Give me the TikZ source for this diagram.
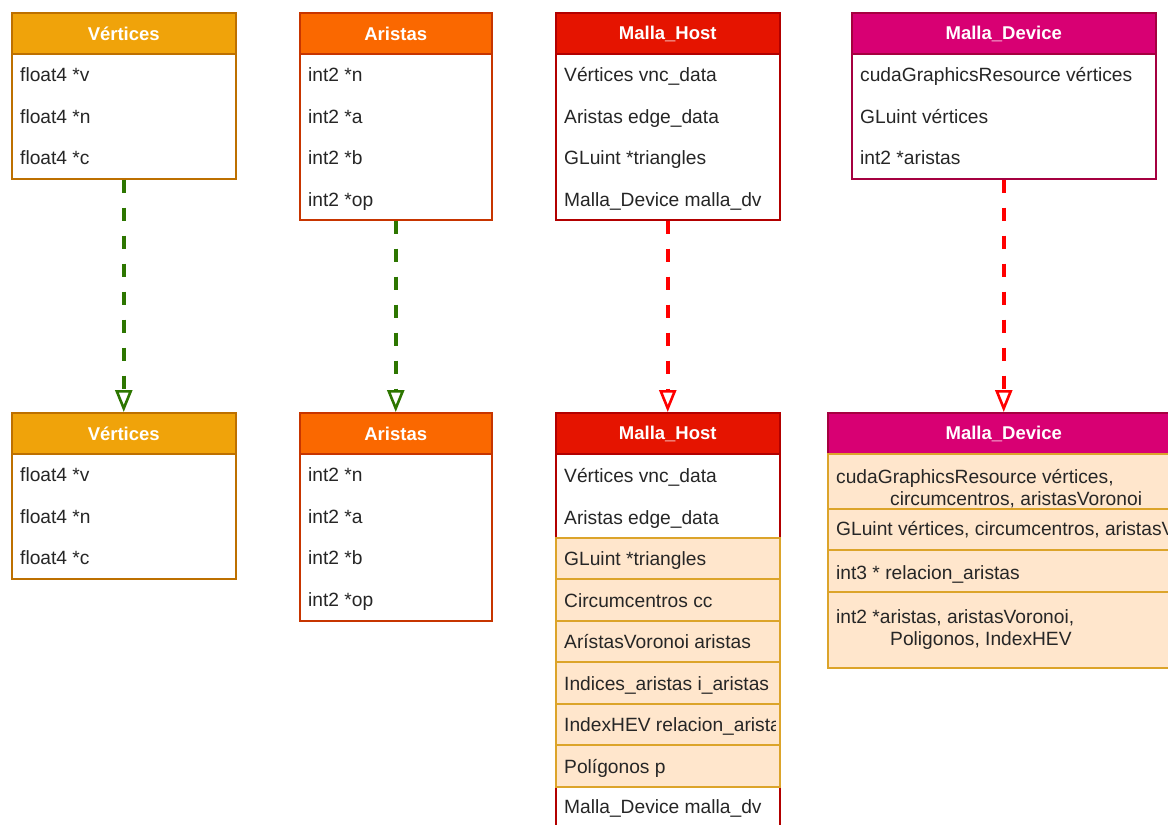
\documentclass[tikz,border=0pt]{standalone}
\usepackage{fontspec}
\setmainfont{Liberation Sans}
\usetikzlibrary{arrows.meta}

\definecolor{amberF}{HTML}{F0A30A}\definecolor{amberD}{HTML}{BD7000}
\definecolor{orangeF}{HTML}{FA6800}\definecolor{orangeD}{HTML}{C73500}
\definecolor{redF}{HTML}{E51400}\definecolor{redD}{HTML}{B20000}
\definecolor{magF}{HTML}{D80073}\definecolor{magD}{HTML}{A50040}
\definecolor{peachF}{HTML}{FFE6CC}\definecolor{peachD}{HTML}{DCA42A}
\definecolor{linkG}{HTML}{2D7600}\definecolor{linkR}{HTML}{FF0000}

\newcommand{\uifont}{\fontsize{19.2pt}{22pt}\selectfont}

\tikzset{
  hdr/.style 2 args={draw=#2, fill=#1, line width=1.5pt, anchor=north west,
    inner sep=0pt, minimum height=41.5pt},
  hdrtext/.style={text=white, font=\fontsize{18.5pt}{22pt}\selectfont\bfseries, inner sep=0pt},
  body/.style={draw=#1, fill=white, line width=1.5pt, anchor=north west, inner sep=0pt},
  band/.style={draw=peachD, fill=peachF, line width=1.5pt, anchor=north west, inner sep=0pt},
  fld/.style={anchor=base west, inner sep=0pt, font=\uifont, text=black!85},
  link/.style={line width=3.5pt, dash pattern=on 13pt off 15pt, draw=#1,
    -{Triangle[length=22pt, width=17pt, fill=white, line width=2.6pt]}},
}

\begin{document}
\begin{tikzpicture}[x=1pt, y=-1pt]
\useasboundingbox (0,0) rectangle (1168,825);
\clip (0,0) rectangle (1168,825);
\fill[white] (0,0) rectangle (1168,825);

% ---------- upper row ----------
% Vertices
\node[hdr={amberF}{amberD}, minimum width=224pt] (v1h) at (11,12) {};
\node[hdrtext] (v1t) at (v1h.center) {Vértices};
\node[body=amberD, minimum width=224pt, minimum height=125pt] (v1b) at (11,53) {};
\node[fld] (v1a) at (20,81) {float4 *v};
\node[fld] (v1n) at (20,123) {float4 *n};
\node[fld] (v1c) at (20,164) {float4 *c};

% Aristas
\node[hdr={orangeF}{orangeD}, minimum width=192pt] (a1h) at (299,12) {};
\node[hdrtext] (a1t) at (a1h.center) {Aristas};
\node[body=orangeD, minimum width=192pt, minimum height=166pt] (a1b) at (299,53) {};
\node[fld] (a1n) at (308,81) {int2 *n};
\node[fld] (a1a) at (308,123) {int2 *a};
\node[fld] (a1bb) at (308,164) {int2 *b};
\node[fld] (a1o) at (308,206) {int2 *op};

% Malla_Host
\node[hdr={redF}{redD}, minimum width=224pt] (h1h) at (555,12) {};
\node[hdrtext] (h1t) at (h1h.center) {Malla\_Host};
\node[body=redD, minimum width=224pt, minimum height=166pt] (h1b) at (555,53) {};
\node[fld] (h1v) at (564,81) {Vértices vnc\_data};
\node[fld] (h1e) at (564,123) {Aristas edge\_data};
\node[fld] (h1g) at (564,164) {GLuint *triangles};
\node[fld] (h1d) at (564,206) {Malla\_Device malla\_dv};

% Malla_Device
\node[hdr={magF}{magD}, minimum width=304pt] (d1h) at (851,12) {};
\node[hdrtext] (d1t) at (d1h.center) {Malla\_Device};
\node[body=magD, minimum width=304pt, minimum height=125pt] (d1b) at (851,53) {};
\node[fld] (d1c) at (860,81) {cudaGraphicsResource vértices};
\node[fld] (d1g) at (860,123) {GLuint vértices};
\node[fld] (d1a) at (860,164) {int2 *aristas};

% ---------- lower row ----------
% Vertices
\node[hdr={amberF}{amberD}, minimum width=224pt] (v2h) at (11,412) {};
\node[hdrtext] (v2t) at (v2h.center) {Vértices};
\node[body=amberD, minimum width=224pt, minimum height=125pt] (v2b) at (11,453) {};
\node[fld] (v2a) at (20,481) {float4 *v};
\node[fld] (v2n) at (20,523) {float4 *n};
\node[fld] (v2c) at (20,564) {float4 *c};

% Aristas
\node[hdr={orangeF}{orangeD}, minimum width=192pt] (a2h) at (299,412) {};
\node[hdrtext] (a2t) at (a2h.center) {Aristas};
\node[body=orangeD, minimum width=192pt, minimum height=167pt] (a2b) at (299,453) {};
\node[fld] (a2n) at (308,481) {int2 *n};
\node[fld] (a2a) at (308,523) {int2 *a};
\node[fld] (a2bb) at (308,564) {int2 *b};
\node[fld] (a2o) at (308,606) {int2 *op};

% Malla_Host (extended)
\node[hdr={redF}{redD}, minimum width=224pt] (h2h) at (555,412) {};
\node[hdrtext] (h2t) at (h2h.center) {Malla\_Host};
\node[body=redD, minimum width=224pt, minimum height=375pt] (h2b) at (555,453) {};
\node[band, minimum width=224pt, minimum height=41pt] (h2r1) at (555,537) {};
\node[band, minimum width=224pt, minimum height=42pt] (h2r2) at (555,578) {};
\node[band, minimum width=224pt, minimum height=41pt] (h2r3) at (555,620) {};
\node[band, minimum width=224pt, minimum height=42pt] (h2r4) at (555,661) {};
\node[band, minimum width=224pt, minimum height=41pt] (h2r5) at (555,703) {};
\node[band, minimum width=224pt, minimum height=42pt] (h2r6) at (555,744) {};
\node[fld] (h2v) at (564,482) {Vértices vnc\_data};
\node[fld] (h2e) at (564,524) {Aristas edge\_data};
\node[fld] (h2g) at (564,565) {GLuint *triangles};
\node[fld] (h2c) at (564,607) {Circumcentros cc};
\node[fld] (h2av) at (564,648) {ArístasVoronoi aristas};
\node[fld] (h2i) at (564,690) {Indices\_aristas i\_aristas};
\begin{scope}
  \clip (h2r5.north west) rectangle ([xshift=-5pt]h2r5.south east);
  \node[fld] (h2x) at (564,731) {IndexHEV relacion\_aristas};
\end{scope}
\node[fld] (h2p) at (564,773) {Polígonos p};
\node[fld] (h2d) at (564,813) {Malla\_Device malla\_dv};

% Malla_Device (extended)
\node[hdr={magF}{magD}, minimum width=352pt] (d2h) at (827,412) {};
\node[hdrtext] (d2t) at (d2h.center) {Malla\_Device};
\node[band, minimum width=352pt, minimum height=55pt] (d2r1) at (827,453) {};
\node[band, minimum width=352pt, minimum height=41pt] (d2r2) at (827,508) {};
\node[band, minimum width=352pt, minimum height=42pt] (d2r3) at (827,549) {};
\node[band, minimum width=352pt, minimum height=76pt] (d2r4) at (827,591) {};
\node[fld] (d2c1) at (836,483) {cudaGraphicsResource vértices,};
\node[fld] (d2c2) at (890,505) {circumcentros, aristasVoronoi};
\node[fld] (d2g) at (836,535) {GLuint vértices, circumcentros, aristasVoronoi};
\node[fld] (d2r) at (836,579) {int3 * relacion\_aristas};
\node[fld] (d2a1) at (836,623) {int2 *aristas, aristasVoronoi,};
\node[fld] (d2a2) at (890,645) {Poligonos, IndexHEV};

% ---------- dependencies ----------
\draw[link=linkG] (v1b.south) -- (v2h.north);
\draw[link=linkG] (a1b.south) -- (a2h.north);
\draw[link=linkR] (h1b.south) -- (h2h.north);
\draw[link=linkR] (d1b.south) -- (d2h.north);
\end{tikzpicture}
\end{document}
